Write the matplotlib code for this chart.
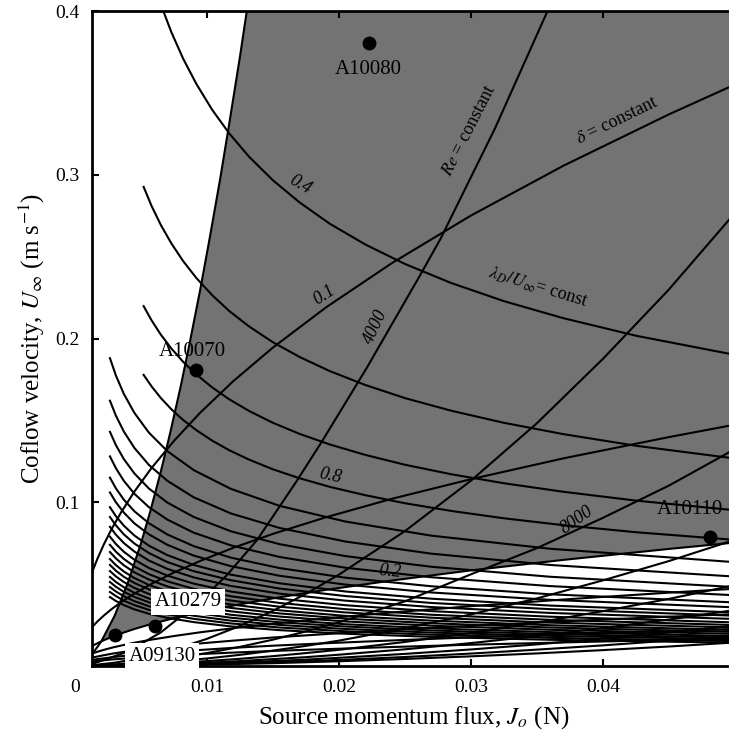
import matplotlib
matplotlib.use("Agg")
import matplotlib.pyplot as plt

plt.rcParams["font.family"] = ["Liberation Serif", "DejaVu Serif"]
plt.rcParams["mathtext.fontset"] = "stix"

# ---- lambda_D / U = const curves (falling) ----
lam_J_upper = [0.0052, 0.0058, 0.0065, 0.0073, 0.0082, 0.0092, 0.0104, 0.0117, 0.0132, 0.015,
               0.017, 0.0193, 0.022, 0.025, 0.0285, 0.0325, 0.037, 0.0425, 0.050]
lam_U_upper = [
    [0.4389, 0.4215, 0.4041, 0.3871, 0.3708, 0.3554, 0.3396, 0.3251, 0.3109, 0.2966,
     0.2832, 0.2701, 0.2574, 0.2455, 0.2339, 0.2228, 0.2124, 0.2017, 0.1900],   # 0.4
    [0.2926, 0.2810, 0.2694, 0.2581, 0.2472, 0.2369, 0.2264, 0.2167, 0.2073, 0.1977,
     0.1888, 0.1801, 0.1716, 0.1636, 0.1559, 0.1485, 0.1416, 0.1345, 0.1267],
    [0.2198, 0.2111, 0.2024, 0.1939, 0.1857, 0.1780, 0.1701, 0.1628, 0.1557, 0.1485,
     0.1418, 0.1353, 0.1289, 0.1229, 0.1171, 0.1116, 0.1064, 0.1010, 0.0951],
    [0.1778, 0.1708, 0.1637, 0.1568, 0.1502, 0.1440, 0.1376, 0.1317, 0.1260, 0.1201,
     0.1147, 0.1094, 0.1043, 0.0994, 0.0947, 0.0902, 0.0860, 0.0817, 0.0770],   # 0.8
]
lam_J_lower = [0.00265, 0.0031, 0.0037, 0.0045, 0.0056, 0.007, 0.009, 0.0118, 0.0155,
               0.0205, 0.027, 0.036, 0.050]
lam_U_lower = [
    [0.188, 0.1774, 0.1662, 0.1546, 0.1425, 0.1312, 0.1196, 0.1082, 0.0978, 0.0882, 0.0796, 0.0716, 0.0634],
    [0.162, 0.1529, 0.1432, 0.1332, 0.1228, 0.1131, 0.1030, 0.0932, 0.0843, 0.0760, 0.0686, 0.0617, 0.0546],
    [0.143, 0.1349, 0.1264, 0.1176, 0.1084, 0.0998, 0.0910, 0.0823, 0.0744, 0.0671, 0.0606, 0.0545, 0.0482],
    [0.128, 0.1208, 0.1131, 0.1052, 0.0970, 0.0894, 0.0814, 0.0737, 0.0666, 0.0600, 0.0542, 0.0488, 0.0432],
    [0.115, 0.1085, 0.1016, 0.0945, 0.0872, 0.0803, 0.0732, 0.0662, 0.0598, 0.0539, 0.0487, 0.0438, 0.0388],
    [0.106, 0.1000, 0.0937, 0.0871, 0.0804, 0.0740, 0.0674, 0.0610, 0.0551, 0.0497, 0.0449, 0.0404, 0.0358],
    [0.097, 0.0915, 0.0857, 0.0797, 0.0735, 0.0677, 0.0617, 0.0558, 0.0505, 0.0455, 0.0411, 0.0369, 0.0327],
    [0.091, 0.0859, 0.0804, 0.0748, 0.0690, 0.0635, 0.0579, 0.0524, 0.0473, 0.0427, 0.0385, 0.0347, 0.0307],
    [0.085, 0.0802, 0.0751, 0.0699, 0.0644, 0.0593, 0.0541, 0.0489, 0.0442, 0.0399, 0.0360, 0.0324, 0.0287],
    [0.079, 0.0745, 0.0698, 0.0649, 0.0599, 0.0552, 0.0503, 0.0455, 0.0411, 0.0371, 0.0335, 0.0301, 0.0266],
    [0.074, 0.0698, 0.0654, 0.0608, 0.0561, 0.0517, 0.0471, 0.0426, 0.0385, 0.0347, 0.0313, 0.0282, 0.0250],
    [0.0696, 0.0657, 0.0615, 0.0572, 0.0528, 0.0486, 0.0443, 0.0400, 0.0362, 0.0327, 0.0295, 0.0265, 0.0235],
    [0.0653, 0.0616, 0.0577, 0.0537, 0.0495, 0.0456, 0.0415, 0.0376, 0.0340, 0.0306, 0.0277, 0.0249, 0.0220],
    [0.0617, 0.0582, 0.0545, 0.0507, 0.0468, 0.0431, 0.0392, 0.0355, 0.0321, 0.0289, 0.0261, 0.0235, 0.0208],
    [0.058, 0.0547, 0.0513, 0.0477, 0.0440, 0.0405, 0.0369, 0.0334, 0.0302, 0.0272, 0.0246, 0.0221, 0.0196],
    [0.0544, 0.0513, 0.0481, 0.0447, 0.0412, 0.0380, 0.0346, 0.0313, 0.0283, 0.0255, 0.0230, 0.0207, 0.0183],
    [0.0513, 0.0484, 0.0453, 0.0422, 0.0389, 0.0358, 0.0326, 0.0295, 0.0267, 0.0241, 0.0217, 0.0195, 0.0173],
    [0.0482, 0.0455, 0.0426, 0.0396, 0.0365, 0.0336, 0.0307, 0.0277, 0.0251, 0.0226, 0.0204, 0.0184, 0.0163],
    [0.0452, 0.0427, 0.0399, 0.0372, 0.0343, 0.0316, 0.0288, 0.0260, 0.0235, 0.0212, 0.0191, 0.0172, 0.0152],
    [0.0421, 0.0397, 0.0372, 0.0346, 0.0319, 0.0294, 0.0268, 0.0242, 0.0219, 0.0197, 0.0178, 0.0160, 0.0142],
]

# ---- Re = const curves (rising) ----
re2000_J = [0.0013, 0.002, 0.003, 0.004, 0.005, 0.0057, 0.0065, 0.0072, 0.008, 0.0087,
            0.0095, 0.0102, 0.011, 0.0117, 0.0125, 0.0135]
re2000_U = [0.0071, 0.0151, 0.0306, 0.0507, 0.0749, 0.0943, 0.1186, 0.1419, 0.1704, 0.1976,
            0.2303, 0.2610, 0.2975, 0.3318, 0.3722, 0.426]
re4000_J = [0.0013, 0.004, 0.0065, 0.0093, 0.0115, 0.0138, 0.0168, 0.0187, 0.0221, 0.0261,
            0.0277, 0.0318, 0.0358, 0.0380]
re4000_U = [0.0012, 0.0088, 0.0205, 0.0385, 0.0554, 0.077, 0.113, 0.137, 0.182, 0.238,
            0.261, 0.328, 0.400, 0.445]
re_J = [0.0013, 0.003, 0.005, 0.0075, 0.010, 0.0125, 0.015, 0.0175, 0.020, 0.025, 0.030,
        0.035, 0.040, 0.045, 0.050]
re_U = [
    [0.0005, 0.0020, 0.0049, 0.0100, 0.0166, 0.0245, 0.0337, 0.0441, 0.0558, 0.0824, 0.1132, 0.1483, 0.1876, 0.2300, 0.2767],
    [0.0002, 0.0010, 0.0024, 0.0048, 0.0079, 0.0117, 0.0161, 0.0211, 0.0267, 0.0395, 0.0560, 0.0720, 0.0905, 0.1102, 0.1325],  # 8000
    [0.0001, 0.0006, 0.0014, 0.0028, 0.0046, 0.0068, 0.0094, 0.0123, 0.0155, 0.0230, 0.0315, 0.0413, 0.0523, 0.0641, 0.0771],
    [0.0001, 0.0004, 0.0009, 0.0018, 0.0030, 0.0044, 0.0060, 0.0079, 0.0099, 0.0147, 0.0202, 0.0265, 0.0335, 0.0410, 0.0494],
    [0.0001, 0.0002, 0.0006, 0.0012, 0.0020, 0.0030, 0.0042, 0.0054, 0.0069, 0.0102, 0.0140, 0.0183, 0.0232, 0.0284, 0.0342],
    [0.0000, 0.0002, 0.0004, 0.0009, 0.0015, 0.0022, 0.0030, 0.0039, 0.0050, 0.0074, 0.0101, 0.0132, 0.0168, 0.0205, 0.0247],
    [0.0000, 0.0001, 0.0003, 0.0007, 0.0011, 0.0016, 0.0023, 0.0030, 0.0037, 0.0055, 0.0076, 0.0100, 0.0126, 0.0155, 0.0186],
    [0.0000, 0.0001, 0.0003, 0.0005, 0.0009, 0.0013, 0.0017, 0.0023, 0.0029, 0.0043, 0.0059, 0.0077, 0.0097, 0.0119, 0.0144],
]

# ---- delta = const curves (rising) ----
delta_J = [0.0013, 0.0017, 0.0022, 0.0028, 0.0035, 0.0045, 0.0058, 0.0075, 0.0095, 0.012,
           0.015, 0.019, 0.024, 0.030, 0.037, 0.045, 0.050]
delta_U = [
    [0.0573, 0.0655, 0.0745, 0.0840, 0.0939, 0.1065, 0.1209, 0.1375, 0.1548, 0.1740,
     0.1945, 0.2189, 0.2460, 0.2751, 0.3055, 0.3369, 0.3551],   # 0.1
    [0.0238, 0.0272, 0.0309, 0.0349, 0.0390, 0.0442, 0.0502, 0.0571, 0.0642, 0.0722,
     0.0807, 0.0908, 0.1021, 0.1141, 0.1268, 0.1398, 0.1474],
    [0.0122, 0.0139, 0.0158, 0.0178, 0.0199, 0.0226, 0.0257, 0.0292, 0.0328, 0.0369,
     0.0413, 0.0465, 0.0522, 0.0584, 0.0648, 0.0715, 0.0754],   # 0.2
    [0.0076, 0.0087, 0.0099, 0.0112, 0.0125, 0.0142, 0.0161, 0.0183, 0.0206, 0.0231,
     0.0258, 0.0291, 0.0327, 0.0365, 0.0406, 0.0448, 0.0472],
    [0.0051, 0.0058, 0.0066, 0.0075, 0.0084, 0.0095, 0.0108, 0.0123, 0.0138, 0.0155,
     0.0174, 0.0195, 0.0220, 0.0245, 0.0273, 0.0301, 0.0317],
    [0.0036, 0.0042, 0.0047, 0.0053, 0.0060, 0.0068, 0.0077, 0.0087, 0.0098, 0.0111,
     0.0124, 0.0139, 0.0156, 0.0175, 0.0194, 0.0214, 0.0226],
    [0.0027, 0.0031, 0.0035, 0.0040, 0.0044, 0.0050, 0.0057, 0.0065, 0.0073, 0.0082,
     0.0092, 0.0103, 0.0116, 0.0130, 0.0144, 0.0159, 0.0167],
]

# ---- experiments ----
run_names = ["A10080", "A10070", "A10110", "A10279", "A09130"]
run_J = [0.02227, 0.00917, 0.0481, 0.00606, 0.00303]
run_U = [0.3804, 0.1808, 0.0788, 0.0244, 0.0189]

fig = plt.figure(figsize=(7.29, 7.37), dpi=100)
ax = fig.add_axes([92 / 729, 71 / 737, 643 / 729, 655 / 737])
ax.set_xlim(0.00129, 0.0500)
ax.set_ylim(0, 0.4)

lw = 1.5
ink = "k"

# shaded operating window: right of Re=2000 and above delta=0.2
edge_x = re2000_J[1:] + [0.0505] + delta_J[2:][::-1]
edge_y = re2000_U[1:] + [0.426] + delta_U[2][2:][::-1]
ax.fill(edge_x, edge_y, color="#737373", lw=0, zorder=1)

for row in lam_U_upper:
    ax.plot(lam_J_upper, row, color=ink, lw=lw, zorder=2)
for row in lam_U_lower:
    ax.plot(lam_J_lower, row, color=ink, lw=lw, zorder=2)
ax.plot(re2000_J, re2000_U, color=ink, lw=lw, zorder=2)
ax.plot(re4000_J, re4000_U, color=ink, lw=lw, zorder=2)
for row in re_U:
    ax.plot(re_J, row, color=ink, lw=lw, zorder=2)
for row in delta_U:
    ax.plot(delta_J, row, color=ink, lw=lw, zorder=2)

ax.plot(run_J, run_U, "o", color=ink, ms=9, zorder=4)

tk = dict(fontsize=15, zorder=5)
box = dict(boxstyle="square,pad=0.15", fc="white", ec="none")
ax.text(0.0222, 0.3640, run_names[0], ha="center", va="center", **tk)
ax.text(0.00886, 0.1918, run_names[1], ha="center", va="center", **tk)
ax.text(0.0441, 0.0953, run_names[2], ha="left", va="center", **tk)
ax.text(0.00856, 0.0391, run_names[3], ha="center", va="center", bbox=box, **tk)
ax.text(0.00659, 0.0061, run_names[4], ha="center", va="center", bbox=box, **tk)

lk = dict(fontsize=13, ha="center", va="center", zorder=5, style="italic")
ax.text(0.01705, 0.2937, "0.4", rotation=-30, **lk)
ax.text(0.01886, 0.2266, "0.1", rotation=33, **lk)
ax.text(0.0228, 0.207, "4000", rotation=65, **lk)
ax.text(0.01932, 0.116, "0.8", rotation=-12, **lk)
ax.text(0.02386, 0.058, "0.2", rotation=-5, **lk)
ax.text(0.0380, 0.0892, "8000", rotation=35, **lk)
ax.text(0.02985, 0.3273, r"$Re$ = constant", rotation=63, fontsize=13,
        ha="center", va="center")
ax.text(0.04106, 0.3328, r"$\delta$ = constant", rotation=26, fontsize=13,
        ha="center", va="center")
ax.text(0.03508, 0.2315, r"$\lambda_D/U_\infty$= const", rotation=-17, fontsize=13,
        ha="center", va="center")

ax.set_xticks([0.01, 0.02, 0.03, 0.04])
ax.set_xticklabels(["0.01", "0.02", "0.03", "0.04"])
ax.set_yticks([0.1, 0.2, 0.3, 0.4])
ax.set_yticklabels(["0.1", "0.2", "0.3", "0.4"])
ax.tick_params(direction="in", length=5, width=1.5, labelsize=14, pad=9, top=True)
ax.annotate("0", xy=(0, 0), xycoords=("data", "axes fraction"), xytext=(0, -9),
            textcoords="offset points", ha="center", va="top", fontsize=14,
            annotation_clip=False)
for s in ax.spines.values():
    s.set_linewidth(2)
ax.set_xlabel(r"Source momentum flux, $J_o$ (N)", fontsize=18, labelpad=6)
ax.set_ylabel(r"Coflow velocity, $U_\infty$ (m s$^{-1}$)", fontsize=18, labelpad=6)

fig.savefig("out.png", dpi=100)
